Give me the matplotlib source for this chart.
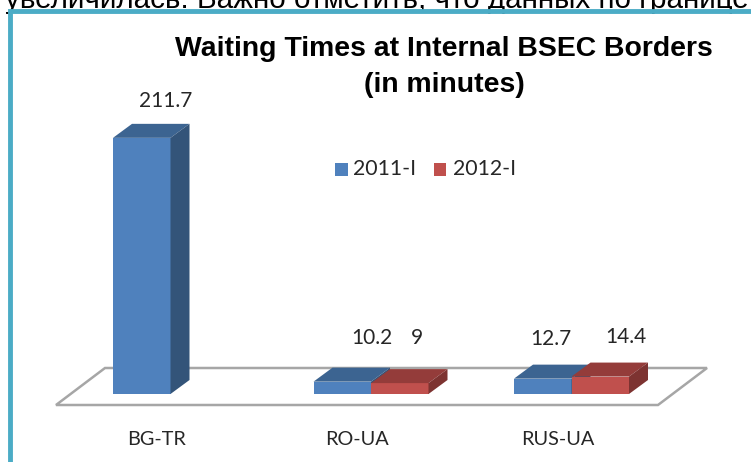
import numpy as np
import matplotlib
matplotlib.use('Agg')
import matplotlib.pyplot as plt
from matplotlib.patches import Polygon, Rectangle

categories = ['BG-TR', 'RO-UA', 'RUS-UA']
values_2011 = [211.7, 10.2, 12.7]
values_2012 = [np.nan, 9, 14.4]
series_names = ['2011-I', '2012-I']
title = 'Waiting Times at Internal BSEC Borders\n(in minutes)'
header = 'увеличилась. Важно отметить, что данных по границе'

W, H = 751, 462
PX_PER_CAT = 200.5
PX_PER_VAL = 1.21
BASE_PX = 394      # y pixel of value 0
CAT1_PX = 371      # x pixel of category index 1

# depth of the fake 3d boxes, in data units
DX = 19 / PX_PER_CAT
DY = 14 / PX_PER_VAL
BAR_W = 57.5 / PX_PER_CAT

colors = {
    '2011-I': ('#4f81bd', '#3c6491', '#335479'),
    '2012-I': ('#c0504d', '#943c3a', '#7d3331'),
}

fig = plt.figure(figsize=(W / 100, H / 100), dpi=100)
ax = fig.add_axes([0, 0, 1, 1])
ax.set_xlim(1 - CAT1_PX / PX_PER_CAT, 1 + (W - CAT1_PX) / PX_PER_CAT)
ax.set_ylim((BASE_PX - H) / PX_PER_VAL, BASE_PX / PX_PER_VAL)
ax.axis('off')


def px(x, y):
    # figure pixel (from the top left) to data coordinates
    return ax.transData.inverted().transform((x, H - y))


# floor
floor = [px(56, 405), px(658, 405), px(707, 368), px(105, 368)]
ax.add_patch(Polygon(floor, closed=True, fc='white', ec='#a6a6a6', lw=1.8, zorder=1))


def box(x0, v, name):
    front, top, side = colors[name]
    ax.bar(x0, v, BAR_W, align='edge', color=front, zorder=3)
    ax.add_patch(Polygon([(x0, v), (x0 + BAR_W, v), (x0 + BAR_W + DX, v + DY), (x0 + DX, v + DY)],
                         closed=True, fc=top, ec='none', zorder=3))
    ax.add_patch(Polygon([(x0 + BAR_W, 0), (x0 + BAR_W + DX, DY), (x0 + BAR_W + DX, v + DY), (x0 + BAR_W, v)],
                         closed=True, fc=side, ec='none', zorder=3))


for i in range(len(categories)):
    box(i - BAR_W, values_2011[i], series_names[0])
    if not np.isnan(values_2012[i]):
        box(i, values_2012[i], series_names[1])

    ax.text(i - 0.07, -37.2, categories[i], ha='center', va='center',
            family='Lato', fontsize=14.3, color='#262626')

# value labels, nudged by hand as in the original
label_font = dict(ha='center', va='bottom', family='Lato', fontsize=15, color='#262626')
shift_2011 = [-4.5, 1, -20.5]
shift_2012 = [0, 46, 54.5]
gap_2011 = [22.2, 27.9, 24.2]
gap_2012 = [0, 28.9, 24.8]
for i in range(len(categories)):
    ax.text(i + shift_2011[i] / PX_PER_CAT, values_2011[i] + gap_2011[i], '%g' % values_2011[i], **label_font)
    if not np.isnan(values_2012[i]):
        ax.text(i + shift_2012[i] / PX_PER_CAT, values_2012[i] + gap_2012[i], '%g' % values_2012[i], **label_font)

# legend
for name, sx, tx in zip(series_names, [335, 434], [353, 453]):
    ax.add_patch(Rectangle(px(sx, 176), 12.5 / PX_PER_CAT, 13 / PX_PER_VAL,
                           fc=colors[name][0], ec='none', zorder=4))
    ax.text(*px(tx, 169), name, ha='left', va='center', family='Lato', fontsize=15.3, color='#262626')

ax.text(*px(444, 67), title, ha='center', va='center', family='Liberation Sans',
        fontweight='bold', fontsize=20.4, color='black', linespacing=1.45)

# text of the page behind the chart, cut off by the top edge
ax.text(*px(5, 8), header, ha='left', va='baseline', family='Liberation Sans',
        fontsize=21.3, color='black', clip_on=True)

# frame
ax.plot(*np.array([px(9.5, H), px(9.5, 11), px(W, 11)]).T, color='#4bacc6', lw=3.5, zorder=5,
        solid_joinstyle='miter')

fig.savefig('out.png', dpi=100)
